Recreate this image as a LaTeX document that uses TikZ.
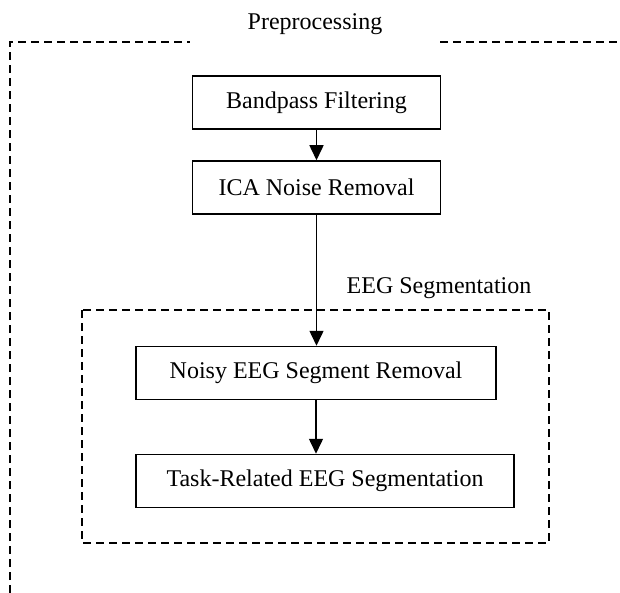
\documentclass[tikz,border=0pt]{standalone}
\usepackage{fontspec}
\setmainfont{Liberation Serif}
\usetikzlibrary{arrows.meta}
\begin{document}
\begin{tikzpicture}[x=1bp,y=-1bp,
  box/.style={draw, line width=1.5bp, minimum height=53bp, inner sep=0pt, font=\fontsize{24bp}{28bp}\selectfont},
  frame/.style={draw, line width=1.3bp, dash pattern=on 8bp off 5bp},
  lbl/.style={font=\fontsize{24bp}{28bp}\selectfont, inner sep=0pt},
  flow/.style={draw, line width=1.5bp, -{Triangle[length=15bp,width=14bp]}}]
\useasboundingbox (0,0) rectangle (620,593);
% outer frame
\coordinate (o1) at (10,593);
\coordinate (o2) at (10,42);
\coordinate (o3) at (190,42);
\coordinate (o4) at (440,42);
\coordinate (o5) at (620,42);
\draw[frame] (o1) -- (o2) -- (o3);
\draw[frame] (o4) -- (o5);
\node[lbl, anchor=base] (title) at (315,30) {Preprocessing};
% inner frame
\coordinate (s1) at (82,310);
\coordinate (s2) at (549,543);
\draw[frame] (s1) rectangle (s2);
\node[lbl, anchor=base] (seglabel) at (439,293) {EEG Segmentation};
% boxes
\node[box, minimum width=248bp] (bp) at (316.5,102.5) {Bandpass Filtering};
\node[box, minimum width=248bp] (ica) at (316.5,187.5) {ICA Noise Removal};
\node[box, minimum width=360bp] (noisy) at (316,373) {Noisy EEG Segment Removal};
\node[box, minimum width=378bp] (task) at (325,481) {Task-Related EEG Segmentation};
% arrows
\draw[flow] (bp) -- (ica);
\draw[flow] (ica.south) -- (ica.south |- noisy.north);
\draw[flow] (noisy.south) -- (noisy.south |- task.north);
\end{tikzpicture}
\end{document}
